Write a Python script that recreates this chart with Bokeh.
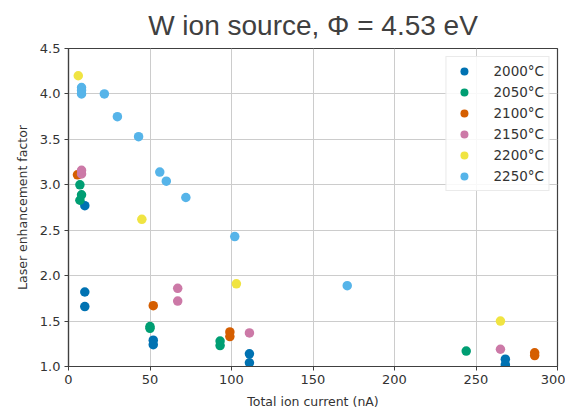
from bokeh.plotting import figure
from bokeh.models import ColumnDataSource, FixedTicker, NumeralTickFormatter, Title, Legend, LegendItem
from bokeh.embed import file_html
from bokeh.resources import INLINE

# Data
labels = ["2000°C", "2050°C", "2100°C", "2150°C", "2200°C", "2250°C"]
colors = ["#0072B2", "#009E73", "#D55E00", "#CC79A7", "#F0E442", "#56B4E9"]

x_2000 = [10, 10, 10, 52, 52, 111, 111, 268, 268]
y_2000 = [2.77, 1.82, 1.66, 1.29, 1.24, 1.14, 1.04, 1.08, 1.02]

x_2050 = [7, 8, 7, 50, 50, 93, 93, 244]
y_2050 = [3.00, 2.89, 2.83, 1.44, 1.42, 1.28, 1.23, 1.17]

x_2100 = [5.5, 52, 99, 99, 286, 286]
y_2100 = [3.11, 1.67, 1.38, 1.33, 1.15, 1.12]

x_2150 = [8, 8, 67, 67, 111, 265]
y_2150 = [3.16, 3.12, 1.86, 1.72, 1.37, 1.19]

x_2200 = [6, 45, 103, 265]
y_2200 = [4.20, 2.62, 1.91, 1.50]

x_2250 = [8, 8, 8, 22, 30, 43, 56, 60, 72, 102, 171]
y_2250 = [4.07, 4.04, 4.00, 4.00, 3.75, 3.53, 3.14, 3.04, 2.86, 2.43, 1.89]

xs = [x_2000, x_2050, x_2100, x_2150, x_2200, x_2250]
ys = [y_2000, y_2050, y_2100, y_2150, y_2200, y_2250]

x_ticks = [0, 50, 100, 150, 200, 250, 300]
y_ticks = [1.0, 1.5, 2.0, 2.5, 3.0, 3.5, 4.0, 4.5]

p = figure(width=565, height=411, x_range=(0, 300), y_range=(1.0, 4.5),
           output_backend="svg", toolbar_location=None,
           min_border_left=68, min_border_right=8, min_border_top=0, min_border_bottom=45)

p.add_layout(Title(text="W ion source, \u03a6 = 4.53 eV", align="center",
                   text_font="Liberation Sans", text_font_size="28px",
                   text_font_style="normal", text_color="#404040",
                   offset=0, standoff=15), "above")

items = []
for xv, yv, c, lab in zip(xs, ys, colors, labels):
    src = ColumnDataSource(dict(x=xv, y=yv))
    r = p.scatter("x", "y", source=src, size=9.5, fill_color=c, line_color=None)
    items.append(LegendItem(label=lab, renderers=[r]))

legend = Legend(items=items, location="top_right",
                label_text_font="DejaVu Sans", label_text_font_size="13.5px",
                label_text_color="#333333", label_standoff=16,
                glyph_width=27, glyph_height=20, spacing=1,
                padding=4, margin=8,
                border_line_color="#d5d5d5", border_line_width=1,
                background_fill_alpha=0.85)
p.add_layout(legend)

for ax in (p.xaxis, p.yaxis):
    ax.major_label_text_font = "DejaVu Sans"
    ax.major_label_text_font_size = "13px"
    ax.major_label_text_color = "#333333"
    ax.axis_label_text_font = "DejaVu Sans"
    ax.axis_label_text_font_size = "12.5px"
    ax.axis_label_text_font_style = "normal"
    ax.axis_label_text_color = "#333333"
    ax.axis_line_color = "#404040"
    ax.axis_line_width = 1.2
    ax.major_tick_line_color = "#404040"
    ax.major_tick_out = 4
    ax.major_tick_in = 0
    ax.minor_tick_line_color = None
    ax.major_label_standoff = 4

p.xaxis.ticker = FixedTicker(ticks=x_ticks)
p.yaxis.ticker = FixedTicker(ticks=y_ticks)
p.yaxis.formatter = NumeralTickFormatter(format="0.0")
p.xaxis.axis_label = "Total ion current (nA)"
p.yaxis.axis_label = "Laser enhancement factor"
p.xaxis.axis_label_standoff = 7
p.yaxis.axis_label_standoff = 7

p.xgrid.grid_line_color = "#cccccc"
p.ygrid.grid_line_color = "#cccccc"
p.xgrid.grid_line_width = 1
p.ygrid.grid_line_width = 1
p.outline_line_color = "#404040"
p.outline_line_width = 1.2
p.background_fill_color = "white"
p.border_fill_color = "white"

open("out.html", "w").write(file_html(p, INLINE))
